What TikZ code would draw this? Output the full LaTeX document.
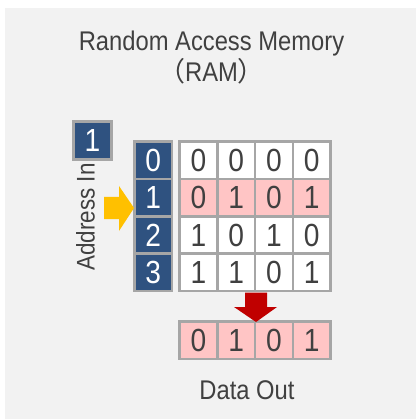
\documentclass[tikz,border=0pt]{standalone}
\usepackage{fontspec}
\setmainfont[FakeStretch=0.88]{Liberation Sans}
\newfontfamily\cjk{Noto Sans CJK JP}
\definecolor{bggray}{HTML}{F2F2F2}
\definecolor{cellborder}{HTML}{A6A6A6}
\definecolor{navy}{RGB}{47,82,128}
\definecolor{pinkcell}{HTML}{FFC5C5}
\definecolor{txt}{HTML}{404040}
\definecolor{yellowarrow}{HTML}{FFC000}
\definecolor{redarrow}{HTML}{C00000}
\tikzset{
  cellbase/.style={draw=cellborder, line width=2.5pt, minimum width=37.8pt, minimum height=37.4pt,
    inner sep=0pt, font=\fontsize{32}{36}\selectfont},
  datacell/.style={cellbase, fill=white, text=txt},
  hicell/.style={cellbase, fill=pinkcell, text=txt},
  idxcell/.style={cellbase, fill=navy, text=white, minimum width=37.5pt},
  label/.style={text=txt, inner sep=0pt}
}
\begin{document}
\begin{tikzpicture}[x=1pt, y=-1pt]
\useasboundingbox (0,0) rectangle (416,419);
\fill[white] (0,0) rectangle (416,419);
\fill[bggray] (5,8) rectangle (416,419);
% title
\node[label, font=\fontsize{27}{30}\selectfont, anchor=base] (title1) at (211.5,51) {Random Access Memory};
\node[label, font=\fontsize{27}{30}\selectfont, anchor=base] (title2) at (211.5,81.5) {{\cjk（}RAM{\cjk）}};
% address in
\node[idxcell, minimum width=38.2pt, minimum height=38.2pt] (addr) at (92.4,140.4) {1};
\node[label, font=\fontsize{25.5}{30}\selectfont, anchor=base, rotate=90] (addrlabel) at (94.5,217) {Address In};
% index column
\foreach \i in {0,...,3}{
  \node[idxcell] (idx\i) at (153.3,{160.2+37.4*\i}) {\i};
}
% data grid
\foreach \r/\a/\b/\c/\d/\s in {0/0/0/0/0/datacell, 1/0/1/0/1/hicell, 2/1/0/1/0/datacell, 3/1/1/0/1/datacell}{
  \node[\s] (c\r0) at (198.4,{160.2+37.4*\r}) {\a};
  \node[\s] (c\r1) at (236.2,{160.2+37.4*\r}) {\b};
  \node[\s] (c\r2) at (274.0,{160.2+37.4*\r}) {\c};
  \node[\s] (c\r3) at (311.8,{160.2+37.4*\r}) {\d};
}
% output row
\node[hicell] (o0) at (198.4,340.4) {0};
\node[hicell] (o1) at (236.2,340.4) {1};
\node[hicell] (o2) at (274.0,340.4) {0};
\node[hicell] (o3) at (311.8,340.4) {1};
\node[label, font=\fontsize{27}{30}\selectfont, anchor=base] (dataout) at (247,399) {Data Out};
% yellow arrow
\fill[yellowarrow] (104,197) -- (119,197) -- (119,186) -- (134,208) -- (119,231) -- (119,219) -- (104,219) -- cycle;
% red arrow
\fill[redarrow] (245,292.5) -- (267,292.5) -- (267,307) -- (277,307) -- (256,322) -- (234,307) -- (245,307) -- cycle;
\end{tikzpicture}
\end{document}
